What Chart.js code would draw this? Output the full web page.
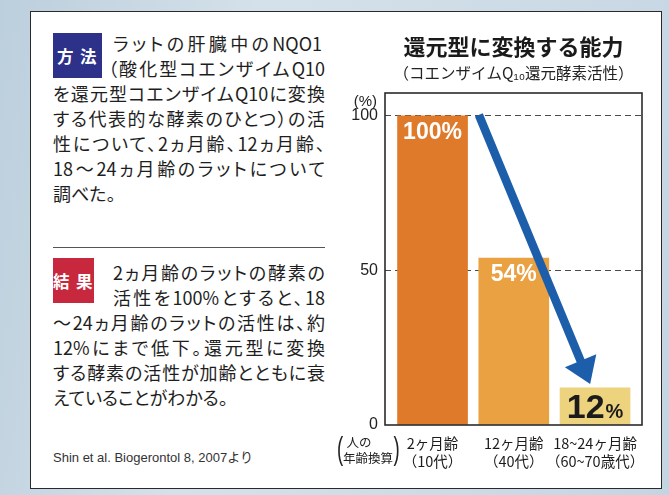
<!DOCTYPE html>
<html lang="ja">
<head>
<meta charset="utf-8">
<script src="https://cdn.jsdelivr.net/npm/chart.js@4.4.1/dist/chart.umd.min.js"></script>
<style>
  html, body { margin: 0; padding: 0; }
  body {
    width: 669px; height: 495px; position: relative; overflow: hidden;
    background: linear-gradient(100deg, #bccfdd 0%, #d5e1ea 35%, #cddbe6 70%, #c4d5e2 100%);
    font-family: "Noto Sans CJK JP", sans-serif; color: #222;
  }
  #panel {
    position: absolute; left: 30px; top: 11px; width: 632px; height: 478px;
    box-sizing: border-box; background: #fff; border: 1.5px solid #2a2a2a;
  }
  .ln {
    position: absolute; height: 25px; line-height: 25px; font-size: 18px;
    text-align: justify; text-align-last: justify; font-feature-settings: "palt";
    color: #1e1e1e;
  }
  .ln.end { text-align: left; text-align-last: left; }
  .badge {
    position: absolute; color: #fff; font-weight: 700; font-size: 16.5px; white-space: nowrap;
    display: flex; align-items: center; justify-content: center; letter-spacing: 1.5px;
  }
  .rule { position: absolute; left: 53px; top: 247px; width: 272px; height: 1px; background: #555; }
  .cite {
    position: absolute; left: 53px; top: 449px; font-size: 13px; line-height: 18px;
    font-family: "Liberation Sans", "Noto Sans CJK JP", sans-serif; color: #333;
  }
  #chartBox { position: absolute; left: 330px; top: 0; width: 339px; height: 495px; }
</style>
</head>
<body>
<div id="panel"></div>

<div class="badge" style="left:53px;top:33px;width:49px;height:45px;background:#2d3189;">方 法</div>
<div class="ln" style="left:113px;top:30.5px;width:209px;">ラットの肝臓中のNQO1</div>
<div class="ln" style="left:108px;top:55.5px;width:217px;">（酸化型コエンザイムQ10</div>
<div class="ln" style="left:53px;top:80.5px;width:272px;">を還元型コエンザイムQ10に変換</div>
<div class="ln" style="left:53px;top:105.5px;width:272px;">する代表的な酵素のひとつ）の活</div>
<div class="ln" style="left:53px;top:130.5px;width:272px;">性について、2ヵ月齢、12ヵ月齢、</div>
<div class="ln" style="left:53px;top:155.5px;width:272px;">18〜24ヵ月齢のラットについて</div>
<div class="ln end" style="left:53px;top:180.5px;width:272px;">調べた。</div>

<div class="rule"></div>

<div class="badge" style="left:53px;top:258px;width:41px;height:45px;background:#c8283d;">結 果</div>
<div class="ln" style="left:113px;top:259.5px;width:212px;">2ヵ月齢のラットの酵素の</div>
<div class="ln" style="left:113px;top:284.5px;width:212px;">活性を100%とすると、18</div>
<div class="ln" style="left:53px;top:309.5px;width:272px;">〜24ヵ月齢のラットの活性は、約</div>
<div class="ln" style="left:53px;top:334.5px;width:272px;">12%にまで低下。還元型に変換</div>
<div class="ln" style="left:53px;top:359.5px;width:272px;">する酵素の活性が加齢とともに衰</div>
<div class="ln end" style="left:53px;top:384.5px;width:272px;">えていることがわかる。</div>

<div class="cite">Shin et al. Biogerontol 8, 2007より</div>

<div id="chartBox"><canvas id="chart" width="339" height="495"></canvas></div>

<script>
// Rat age groups (with the equivalent human age) and NQO1 activity, % of the 2-month group
const categories = [
  ['2ヶ月齢', '（10代）'],
  ['12ヶ月齢', '（40代）'],
  ['18~24ヶ月齢', '（60~70歳代）']
];
const activity = [100, 54, 12];
const yTickValues = [0, 50, 100];

const JP = "'Noto Sans CJK JP', sans-serif";
const LAT = "'Liberation Sans', Arial, sans-serif";

// Frame, value labels, decline arrow and the small axis notes
const overlay = {
  id: 'overlay',
  afterDraw(chart, args, opts) {
    const { ctx, chartArea: a, scales: { x, y } } = chart;
    ctx.save();

    // plot frame
    ctx.strokeStyle = '#2b2b2b';
    ctx.lineWidth = 1.6;
    ctx.strokeRect(a.left, a.top, a.right - a.left, a.bottom - a.top);

    // value labels
    const meta = chart.getDatasetMeta(0);
    meta.data.forEach((bar, i) => {
      const v = activity[i];
      if (bar.base - bar.y > 60) {
        ctx.font = 'bold 23px ' + LAT;
        ctx.fillStyle = '#ffffff';
        ctx.textAlign = 'center';
        ctx.textBaseline = 'middle';
        ctx.fillText(v + '%', bar.x, bar.y + 17);
      } else {
        const num = String(v);
        ctx.textBaseline = 'alphabetic';
        ctx.textAlign = 'left';
        ctx.font = 'bold 34px ' + LAT;
        const w1 = ctx.measureText(num).width;
        ctx.font = 'bold 20px ' + LAT;
        const w2 = ctx.measureText('%').width;
        const x0 = bar.x - (w1 + w2 + 1) / 2;
        ctx.fillStyle = '#1b1b1b';
        ctx.font = 'bold 34px ' + LAT;
        ctx.fillText(num, x0, bar.base - 7);
        ctx.font = 'bold 20px ' + LAT;
        ctx.fillText('%', x0 + w1 + 1, bar.base - 7);
      }
    });

    // decline arrow
    const t = opts.trend;
    const p0 = { x: x.getPixelForValue(t.from.x), y: y.getPixelForValue(t.from.y) };
    const p1 = { x: x.getPixelForValue(t.to.x), y: y.getPixelForValue(t.to.y) };
    const len = Math.hypot(p1.x - p0.x, p1.y - p0.y);
    const ux = (p1.x - p0.x) / len, uy = (p1.y - p0.y) / len;
    const nx = -uy, ny = ux;
    const headLen = 25, headHalf = 17;
    const bx = p1.x - ux * headLen, by = p1.y - uy * headLen;
    ctx.strokeStyle = '#1d5eab';
    ctx.fillStyle = '#1d5eab';
    ctx.lineWidth = 8.5;
    ctx.lineCap = 'butt';
    ctx.beginPath();
    ctx.moveTo(p0.x, p0.y);
    ctx.lineTo(bx + ux * 2, by + uy * 2);
    ctx.stroke();
    ctx.beginPath();
    ctx.moveTo(p1.x, p1.y);
    ctx.lineTo(bx + nx * headHalf, by + ny * headHalf);
    ctx.lineTo(bx - nx * headHalf, by - ny * headHalf);
    ctx.closePath();
    ctx.fill();

    // unit note above the y ticks
    ctx.fillStyle = '#222';
    ctx.font = '15px ' + LAT;
    ctx.textAlign = 'right';
    ctx.textBaseline = 'middle';
    ctx.fillText('(%)', a.left - 8, a.top + 9);

    // "(人の年齢換算)" note left of the category labels
    ctx.font = '12.5px ' + JP;
    ctx.textAlign = 'center';
    ctx.fillStyle = '#222';
    ctx.fillText('人の', a.left - 26, a.bottom + 17);
    ctx.fillText('年齢換算', a.left - 17, a.bottom + 33);
    ctx.font = '300 31px ' + LAT;
    ctx.save();
    ctx.translate(a.left - 45, a.bottom + 25);
    ctx.scale(0.6, 1);
    ctx.fillText('(', 0, 0);
    ctx.restore();
    ctx.save();
    ctx.translate(a.left + 11.5, a.bottom + 25);
    ctx.scale(0.6, 1);
    ctx.fillText(')', 0, 0);
    ctx.restore();

    ctx.restore();
  }
};

new Chart(document.getElementById('chart'), {
  type: 'bar',
  data: {
    datasets: [{
      data: activity.map((v, i) => ({ x: i, y: v })),
      backgroundColor: ['#e07a2b', '#e9a142', '#edd37d'],
      borderWidth: 0,
      barThickness: 70
    }]
  },
  options: {
    responsive: false,
    devicePixelRatio: 1,
    animation: false,
    layout: { padding: { left: 0, right: 27, top: 0, bottom: 0 } },
    scales: {
      x: {
        type: 'linear',
        offset: false,
        min: -0.585,
        max: 2.578,
        grid: { display: false, offset: false },
        border: { display: false },
        afterBuildTicks: s => { s.ticks = categories.map((_, i) => ({ value: i })); },
        afterFit: s => { s.height = 70; },
        ticks: {
          autoSkip: false,
          maxRotation: 0,
          padding: 1,
          color: '#1c1c1c',
          font: { family: JP, size: 14.5, lineHeight: 1.25 },
          callback: v => categories[v]
        }
      },
      y: {
        min: 0,
        max: 107.4,
        z: 1,
        afterBuildTicks: s => { s.ticks = yTickValues.map(v => ({ value: v })); },
        afterFit: s => { s.width = 55; },
        grid: {
          drawTicks: false,
          lineWidth: 1,
          color: c => (c.tick && c.tick.value === 0) ? 'rgba(0,0,0,0)' : '#4a4a4a',
          borderDash: [6, 4]
        },
        border: { display: false, dash: [6, 4] },
        ticks: {
          padding: 7,
          color: '#222',
          font: { family: LAT, size: 16 },
          callback: v => String(v)
        }
      }
    },
    plugins: {
      legend: { display: false },
      tooltip: { enabled: false },
      title: {
        display: true,
        fullSize: false,
        text: '還元型に変換する能力',
        color: '#1a1a1a',
        font: { family: JP, size: 22, weight: 'bold', lineHeight: 1.2 },
        padding: { top: 33, bottom: 0 }
      },
      subtitle: {
        display: true,
        fullSize: false,
        text: '（コエンザイムQ₁₀還元酵素活性）',
        color: '#222',
        font: { family: JP, size: 15.5, lineHeight: 1.2 },
        padding: { top: 4.3, bottom: 10.7 }
      },
      overlay: {
        trend: { from: { x: 0.57, y: 100.3 }, to: { x: 1.94, y: 13.3 } }
      }
    }
  },
  plugins: [overlay]
});
</script>
</body>
</html>
